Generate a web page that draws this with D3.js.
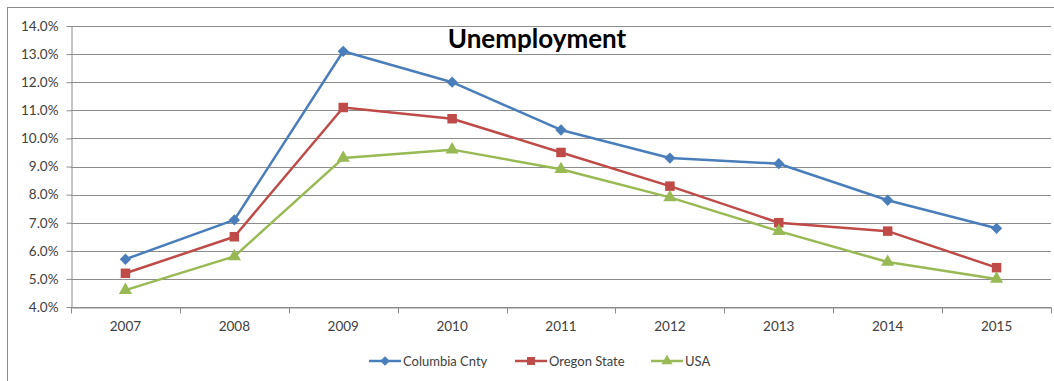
<!DOCTYPE html>
<html>
<head>
<meta charset="utf-8">
<script src="https://cdn.jsdelivr.net/npm/d3@7"></script>
<style>
  body { margin: 0; background: #fff; }
  text { font-family: Lato, "Open Sans", sans-serif; }
</style>
</head>
<body>
<div id="chart"></div>
<script>
// data
const years = ['2007','2008','2009','2010','2011','2012','2013','2014','2015']
const columbia = [5.7, 7.1, 13.1, 12.0, 10.3, 9.3, 9.1, 7.8, 6.8]
const oregon = [5.2, 6.5, 11.1, 10.7, 9.5, 8.3, 7.0, 6.7, 5.4]
const usa = [4.6, 5.8, 9.3, 9.6, 8.9, 7.9, 6.7, 5.6, 5.0]
const yTicks = [4,5,6,7,8,9,10,11,12,13,14]
const seriesNames = ['Columbia Cnty','Oregon State','USA']

const W = 1054, H = 381
var margin = {top: 26, right: 3, bottom: 74, left: 71},
    width = W - margin.left - margin.right,
    height = H - margin.top - margin.bottom;

var svg = d3.select("#chart")
  .append("svg")
  .attr("width", W)
  .attr("height", H)

// outer chart border
svg.append("rect")
  .attr("x", 7.5).attr("y", 7.5)
  .attr("width", W + 10).attr("height", H + 10)
  .attr("fill", "none")
  .attr("stroke", "#8c8c8c")

var chart = svg.append("g")
  .attr("transform", "translate(" + margin.left + "," + margin.top + ")")

var x = d3.scaleBand().domain(years).range([0, width])
var y = d3.scaleLinear().domain([4, 14]).range([height, 0])

// gridlines
chart.selectAll(".grid")
  .data(yTicks)
  .enter().append("line")
  .attr("x1", 0).attr("x2", width)
  .attr("y1", d => Math.round(y(d)) + 0.5)
  .attr("y2", d => Math.round(y(d)) + 0.5)
  .attr("stroke", "#8c8c8c")
  .attr("stroke-width", 1)

// y axis
var yAxis = chart.append("g")
  .attr("transform", "translate(0.5,0)")
  .call(d3.axisLeft(y).tickValues(yTicks).tickSize(5).tickSizeOuter(0)
    .tickFormat(d => d.toFixed(1) + "%"))
yAxis.select(".domain").attr("stroke", "#8c8c8c")
yAxis.selectAll(".tick line").attr("stroke", "#8c8c8c")
yAxis.selectAll(".tick text")
  .attr("x", -13)
  .style("font-size", "13.5px")
  .attr("fill", "#404040")

// x axis
var xAxis = chart.append("g")
  .attr("transform", "translate(0," + (Math.round(height) + 0.5) + ")")
  .call(d3.axisBottom(x).tickSize(0).tickSizeOuter(0))
xAxis.select(".domain").attr("stroke", "#8c8c8c")
xAxis.selectAll(".tick text")
  .attr("y", 14)
  .style("font-size", "13.5px")
  .attr("fill", "#404040")
// category boundary ticks
xAxis.selectAll(".bound")
  .data(years.concat(["end"]))
  .enter().append("line")
  .attr("x1", (d, i) => Math.round(i * x.step()) + 0.5)
  .attr("x2", (d, i) => Math.round(i * x.step()) + 0.5)
  .attr("y1", 0).attr("y2", 6)
  .attr("stroke", "#8c8c8c")

// title
svg.append("text")
  .attr("x", 537).attr("y", 48)
  .attr("text-anchor", "middle")
  .style("font-size", "26px")
  .style("font-weight", "bold")
  .attr("fill", "#000")
  .text("Unemployment")

// excel-like square diamond
const squareDiamond = {
  draw(context, size) {
    const r = Math.sqrt(size / 2)
    context.moveTo(0, -r)
    context.lineTo(r, 0)
    context.lineTo(0, r)
    context.lineTo(-r, 0)
    context.closePath()
  }
}

const series = [
  {name: seriesNames[0], values: columbia, color: "#4a7ebb", symbol: squareDiamond, size: 64},
  {name: seriesNames[1], values: oregon, color: "#be4b48", symbol: d3.symbolSquare, size: 90},
  {name: seriesNames[2], values: usa, color: "#98b954", symbol: d3.symbolTriangle, size: 75}
]

var line = d3.line()
  .x((d, i) => x(years[i]) + x.bandwidth() / 2)
  .y(d => y(d))

series.forEach(s => {
  chart.append("path")
    .datum(s.values)
    .attr("d", line)
    .attr("fill", "none")
    .attr("stroke", s.color)
    .attr("stroke-width", 2.5)
    .attr("stroke-linejoin", "round")

  chart.selectAll(null)
    .data(s.values)
    .enter().append("path")
    .attr("d", d3.symbol().type(s.symbol).size(s.size))
    .attr("transform", (d, i) => "translate(" + (x(years[i]) + x.bandwidth() / 2) + "," + y(d) + ")")
    .attr("fill", s.color)
})

// legend
const legendX = [369, 515, 651]
const legend = svg.selectAll(".legend")
  .data(series)
  .enter().append("g")
  .attr("transform", (d, i) => "translate(" + legendX[i] + ",361)")

legend.append("line")
  .attr("x1", 0).attr("x2", 32)
  .attr("stroke", d => d.color)
  .attr("stroke-width", 2.5)
legend.append("path")
  .attr("d", d => d3.symbol().type(d.symbol).size(d.size * 0.7)())
  .attr("transform", "translate(16,0)")
  .attr("fill", d => d.color)
legend.append("text")
  .attr("x", 34)
  .attr("dy", "0.35em")
  .style("font-size", "13px")
  .attr("fill", "#404040")
  .text(d => d.name)
</script>
</body>
</html>
